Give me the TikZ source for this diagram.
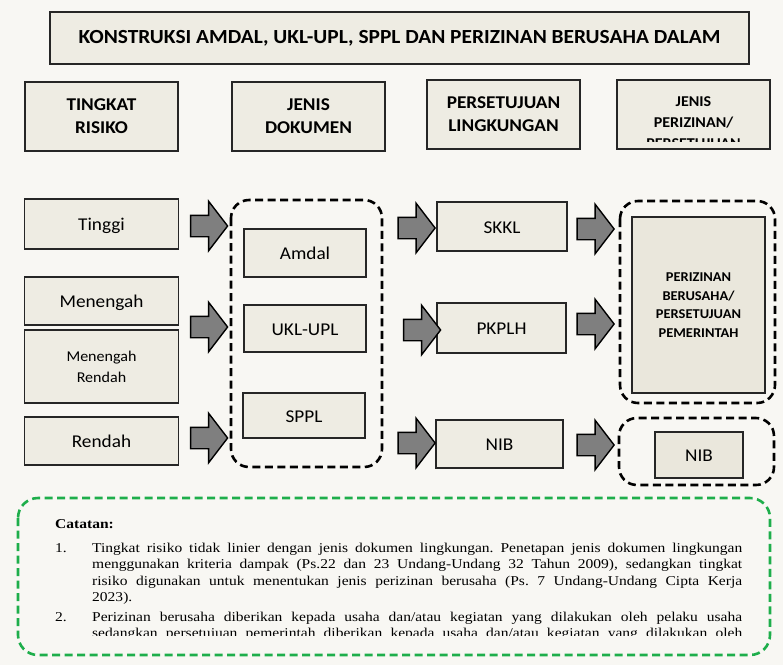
\documentclass[tikz,border=0pt]{standalone}
\usepackage{fontspec}
\setmainfont[FakeStretch=1.07]{Carlito}
\newfontfamily\notefont[FakeStretch=1.15]{Liberation Serif}
\usetikzlibrary{shapes.arrows}
\definecolor{bg}{HTML}{F8F7F3}
\definecolor{boxfill}{HTML}{EEECE3}
\definecolor{boxdark}{HTML}{EAE7DC}
\definecolor{arrowgray}{HTML}{7F7F7F}
\definecolor{notegreen}{HTML}{1EAE4B}
\begin{document}
\frenchspacing
\begin{tikzpicture}[x=1pt,y=-1pt,
  box/.style={draw=black!85, line width=1.6pt, fill=boxfill, inner sep=0pt, align=center},
  headtxt/.style={font=\fontsize{18}{23}\selectfont\bfseries},
  bodytxt/.style={font=\fontsize{18}{20}\selectfont, text height=14pt, text depth=1pt},
  notetxt/.style={font=\notefont\fontsize{13.5}{16.5}\selectfont},
  group/.style={draw=black, line width=2.6pt, dash pattern=on 8pt off 4.5pt, rounded corners=18pt},
  blockarrow/.style={single arrow, draw=black, line width=1.4pt, fill=arrowgray,
    minimum height=37pt, inner xsep=0pt, inner ysep=10pt, single arrow head extend=14pt,
    single arrow tip angle=105, single arrow head indent=0pt}
]
% page
\fill[bg] (0,0) rectangle (783,665);
\useasboundingbox (0,0) rectangle (783,665);

% title
\node[box, minimum width=699pt, minimum height=52pt, font=\fontsize{20}{22}\selectfont\bfseries]
  (title) at (399.5,38) {KONSTRUKSI AMDAL, UKL-UPL, SPPL DAN PERIZINAN BERUSAHA DALAM};

% column headers
\node[box, headtxt, minimum width=153pt, minimum height=69pt] (h1) at (101.5,116.5) {TINGKAT\\RISIKO};
\node[box, headtxt, minimum width=153pt, minimum height=69pt] (h2) at (308.5,116.5) {JENIS\\DOKUMEN};
\node[box, headtxt, minimum width=153pt, minimum height=69pt] (h3) at (503.5,114.5) {PERSETUJUAN\\LINGKUNGAN};
\node[box, minimum width=153pt, minimum height=69pt] (h4) at (693.5,114.5) {};
\begin{scope}
  \clip (618,81) rectangle (769,141);
  \node[anchor=north, align=center, font=\fontsize{15}{21}\selectfont\bfseries]
    (h4txt) at (693.5,93) {JENIS\\PERIZINAN/\\PERSETUJUAN};
\end{scope}

% risk levels
\node[box, bodytxt, minimum width=154pt, minimum height=50pt] (tinggi) at (101.5,224) {Tinggi};
\node[box, bodytxt, minimum width=154pt, minimum height=48pt] (menengah) at (101.5,301) {Menengah};
\node[box, font=\fontsize{15}{21}\selectfont, minimum width=154pt, minimum height=73pt] (menrendah) at (101.5,366.5) {Menengah\\Rendah};
\node[box, bodytxt, minimum width=154pt, minimum height=48pt] (rendah) at (101.5,441) {Rendah};

% document types
\draw[group] (231,200) rectangle (382,467);
\node[box, bodytxt, minimum width=122pt, minimum height=48pt] (amdal) at (305,253) {Amdal};
\node[box, bodytxt, minimum width=122pt, minimum height=47pt] (ukl) at (305,328.5) {UKL-UPL};
\node[box, bodytxt, minimum width=122pt, minimum height=45pt] (sppl) at (304,415.5) {SPPL};

% environmental approvals
\node[box, bodytxt, minimum width=130pt, minimum height=49pt] (skkl) at (502,226.5) {SKKL};
\node[box, bodytxt, minimum width=129pt, minimum height=50pt] (pkplh) at (501.5,328) {PKPLH};
\node[box, bodytxt, minimum width=127pt, minimum height=48pt] (nib) at (499.5,444) {NIB};

% business permits
\draw[group] (620,201) rectangle (775,403);
\node[box, fill=boxdark, minimum width=133pt, minimum height=176pt,
  font=\fontsize{13.5}{18.5}\selectfont\bfseries] (izin) at (698.5,305)
  {PERIZINAN\\BERUSAHA/\\PERSETUJUAN\\PEMERINTAH};
\draw[group] (619,418) rectangle (774,485);
\node[box, fill=boxdark, bodytxt, minimum width=88pt, minimum height=46pt] (nib2) at (699,455) {NIB};

% block arrows
\node[blockarrow] (a11) at (205,226) {};
\node[blockarrow] (a12) at (205,327) {};
\node[blockarrow] (a13) at (205,438) {};
\node[blockarrow] (a21) at (412.5,228) {};
\node[blockarrow] (a22) at (418,330) {};
\node[blockarrow] (a23) at (412.5,443) {};
\node[blockarrow] (a31) at (591.5,229) {};
\node[blockarrow] (a32) at (591.5,324) {};
\node[blockarrow] (a33) at (591.5,445) {};

% notes
\draw[notegreen, line width=2.6pt, dash pattern=on 8pt off 4.5pt, rounded corners=20pt]
  (18,498) rectangle (770,655);
\node[anchor=base west, inner sep=0pt, font=\notefont\fontsize{13.5}{16.5}\selectfont\bfseries] (cat) at (55,528) {Catatan:};
\node[anchor=base west, inner sep=0pt, notetxt] (n1) at (55,552) {1.};
\node[anchor=base west, inner sep=0pt, text width=650pt, align=justify, notetxt] (t1) at (92,552)
  {Tingkat risiko tidak linier dengan jenis dokumen lingkungan. Penetapan jenis dokumen lingkungan\linebreak
   menggunakan kriteria dampak (Ps.22 dan 23 Undang-Undang 32 Tahun 2009), sedangkan tingkat\linebreak
   risiko digunakan untuk menentukan jenis perizinan berusaha (Ps. 7 Undang-Undang Cipta Kerja\linebreak
   2023).};
\node[anchor=base west, inner sep=0pt, notetxt] (n2) at (55,621) {2.};
\begin{scope}
  \clip (60,605) rectangle (760,635.5);
  \node[anchor=base west, inner sep=0pt, text width=650pt, align=justify, notetxt] (t2) at (92,621)
    {Perizinan berusaha diberikan kepada usaha dan/atau kegiatan yang dilakukan oleh pelaku usaha\linebreak
     sedangkan persetujuan pemerintah diberikan kepada usaha dan/atau kegiatan yang dilakukan oleh\linebreak};
\end{scope}
\end{tikzpicture}
\end{document}
